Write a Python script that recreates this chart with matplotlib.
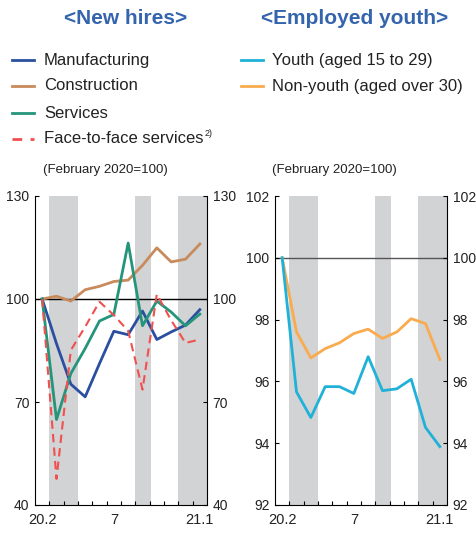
import matplotlib.pyplot as plt
from matplotlib.lines import Line2D

plt.rcParams['font.family'] = ['Liberation Sans', 'DejaVu Sans']

months = ["20.2", "3", "4", "5", "6", "7", "8", "9", "10", "11", "12", "21.1"]
tick_labels = {0: "20.2", 5: "7", 11: "21.1"}

# New hires (February 2020=100)
manufacturing = [100, 87.0, 75.2, 71.5, 81.2, 90.6, 89.6, 96.5, 88.2, 90.4, 92.4, 96.9]
construction = [100, 100.8, 99.4, 102.7, 103.7, 105.1, 105.5, 109.8, 114.9, 110.8, 111.6, 116.0]
services = [100, 64.9, 78.3, 85.6, 93.6, 95.5, 116.3, 92.2, 99.4, 96.2, 92.2, 95.6]
face_to_face = [100, 47.6, 85.1, 91.9, 99.2, 95.3, 90.7, 73.6, 101.4, 93.8, 87.2, 88.2]

# Employed youth (February 2020=100)
youth = [100, 95.66, 94.83, 95.83, 95.83, 95.61, 96.80, 95.70, 95.76, 96.07, 94.51, 93.89]
non_youth = [100, 97.60, 96.76, 97.06, 97.25, 97.55, 97.69, 97.39, 97.60, 98.03, 97.87, 96.71]

# shaded periods (index ranges)
shades = [(0.5, 2.5), (6.5, 7.6), (9.5, 11.5)]

c_manu = '#2b4fa0'
c_cons = '#c98a5c'
c_serv = '#24957a'
c_f2f = '#f24f4f'
c_youth = '#1fb1d8'
c_nonyouth = '#f9ab4e'
c_title = '#3464ad'
c_text = '#222222'

fig = plt.figure(figsize=(4.77, 5.36), dpi=100)
ax1 = fig.add_axes([35 / 477, 31 / 536, 172 / 477, 309 / 536])
ax2 = fig.add_axes([275 / 477, 31 / 536, 172 / 477, 309 / 536])

x = list(range(len(months)))


def style(ax, ylim, yticks, hline_color):
    for a, b in shades:
        ax.axvspan(a, b, color='#d1d3d5', lw=0, zorder=0)
    ax.axhline(100, color=hline_color, lw=1.0, zorder=1)
    ax.set_xlim(-0.5, 11.5)
    ax.set_ylim(*ylim)
    ax.spines['top'].set_visible(False)
    for s in ['left', 'right', 'bottom']:
        ax.spines[s].set_linewidth(0.8)
    ax.set_yticks(yticks)
    ax.set_yticklabels([str(v) for v in yticks])
    ax.tick_params(axis='y', direction='in', length=3, width=0.8,
                   left=True, right=True, labelleft=True, labelright=True,
                   labelsize=10, pad=4, labelcolor=c_text)
    ax.set_xticks(list(tick_labels.keys()))
    ax.set_xticklabels(list(tick_labels.values()))
    ax.set_xticks([i + 0.5 for i in range(11)], minor=True)
    ax.tick_params(axis='x', which='major', length=0, labelsize=10.5, pad=6,
                   labelcolor=c_text)
    ax.tick_params(axis='x', which='minor', direction='in', length=3, width=0.8)


style(ax1, (40, 130), [40, 70, 100, 130], 'black')
style(ax2, (92, 102), [92, 94, 96, 98, 100, 102], '#555555')

ax1.plot(x, construction, color=c_cons, lw=2, zorder=3)
ax1.plot(x, manufacturing, color=c_manu, lw=2, zorder=4)
ax1.plot(x, services, color=c_serv, lw=2, zorder=4)
ax1.plot(x, face_to_face, color=c_f2f, lw=1.5, ls=(0, (4, 2.5)), zorder=5)

ax2.plot(x, non_youth, color=c_nonyouth, lw=2, zorder=3)
ax2.plot(x, youth, color=c_youth, lw=2, zorder=4)

# titles
fig.text(126 / 477, 1 - 19 / 536, "<New hires>", color=c_title, fontsize=15,
         fontweight='bold', ha='center', va='center')
fig.text(355 / 477, 1 - 19 / 536, "<Employed youth>", color=c_title, fontsize=15,
         fontweight='bold', ha='center', va='center')

# legends
left_items = [("Manufacturing", c_manu, '-'), ("Construction", c_cons, '-'),
              ("Services", c_serv, '-'), ("Face-to-face services", c_f2f, '--')]
right_items = [("Youth (aged 15 to 29)", c_youth, '-'),
               ("Non-youth (aged over 30)", c_nonyouth, '-')]
rows = [60, 86, 113, 139]


def legend(items, x0, x_text):
    for (label, col, ls), yy in zip(items, rows):
        y = 1 - yy / 536
        fig.add_artist(Line2D([x0 / 477, (x0 + 22) / 477], [y, y], color=col, lw=2,
                              ls=(0, (3.5, 3)) if ls == '--' else '-',
                              transform=fig.transFigure))
        fig.text(x_text / 477, y, label, fontsize=12, color=c_text, va='center')


legend(left_items, 12, 44)
legend(right_items, 241, 272)
fig.text(205 / 477, 1 - 134 / 536, "2)", fontsize=6.5, color=c_text, va='center')

fig.text(105 / 477, 1 - 170 / 536, "(February 2020=100)", fontsize=9.5, color=c_text,
         ha='center', va='center')
fig.text(334 / 477, 1 - 170 / 536, "(February 2020=100)", fontsize=9.5, color=c_text,
         ha='center', va='center')

fig.savefig('out.png', dpi=100)
